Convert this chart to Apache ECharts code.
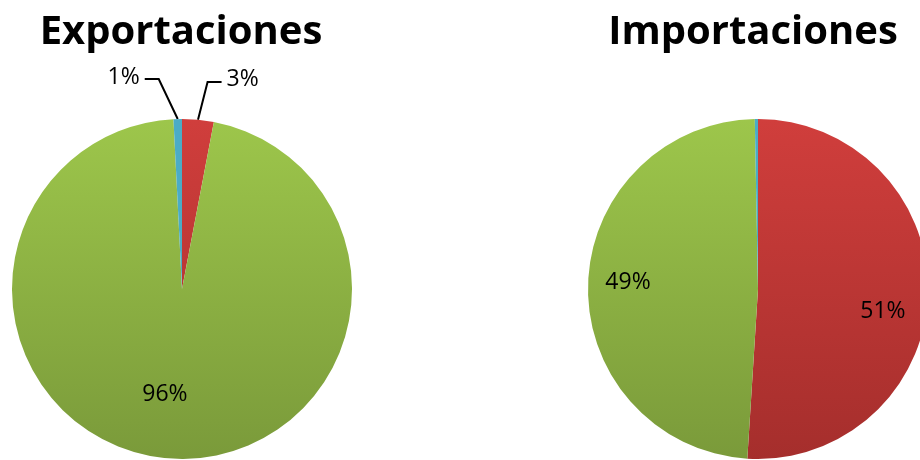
<!DOCTYPE html>
<html><head><meta charset="utf-8">
<script src="https://cdn.jsdelivr.net/npm/echarts@6/dist/echarts.min.js"></script>
<style>html,body{margin:0;padding:0;background:#fff}#c{width:920px;height:460px}</style>
</head><body><div id="c"></div>
<script>
const categories = ['Rojo', 'Verde', 'Azul'];
const exportValues = [3.0, 96.2, 0.8];
const importValues = [51.0, 48.7, 0.3];
const titles = ['Exportaciones', 'Importaciones'];

function grad(c1, c2) {
  return {type:'linear', x:0, y:120, x2:0, y2:460, global:true,
    colorStops:[{offset:0,color:c1},{offset:1,color:c2}]};
}
const colors = [grad('#d03e3c','#a52e2c'), grad('#9dc64b','#7a9a3a'), '#4bacc6'];
const fontFam = 'Open Sans, Liberation Sans, sans-serif';

function buildData(values, labelCfg) {
  return values.map((v, i) => Object.assign({name: categories[i], value: v,
    itemStyle:{color: colors[i]}}, labelCfg[i] || {}));
}

const guide = {color:'#000', width:2};
const expLabels = [
  {label:{show:true, position:'outside'}, labelLine:{show:true, length:38, length2:14, lineStyle:guide}},
  {label:{show:true, position:'inside', offset:[-11,18]}},
  {label:{show:true, position:'outside'}, labelLine:{show:true, length:40, length2:14, lineStyle:guide}}
];
const impLabels = [
  {label:{show:true, position:'inside', offset:[37,20]}},
  {label:{show:true, position:'inside', offset:[-42,-5]}},
  {label:{show:false}, labelLine:{show:false}}
];
// horizontal shift of outside labels (and the bend of their leader lines)
const expShift = {0: 6, 2: -18};

function shiftLayout(p) {
  const s = expShift[p.dataIndex];
  if (s === undefined || !p.labelLinePoints) return {};
  const pts = p.labelLinePoints.map((pt, k) => k === 0 ? [pt[0], pt[1]] : [pt[0] + s, pt[1]]);
  return {dx: s, dy: -2, labelLinePoints: pts};
}

const chart = echarts.init(document.getElementById('c'));
const baseLabel = {fontFamily: fontFam, fontSize: 23, color:'#000',
  formatter: p => Math.round(p.value) + '%'};
chart.setOption({
  animation:false,
  title:[
    {text: titles[0], left: 176, top: 8, textAlign:'center', textStyle:{fontFamily: fontFam, fontWeight:'bold', fontSize:40, color:'#000'}},
    {text: titles[1], left: 748, top: 8, textAlign:'center', textStyle:{fontFamily: fontFam, fontWeight:'bold', fontSize:40, color:'#000'}}
  ],
  series:[
    {type:'pie', center:[182,289], radius:170, startAngle:90, clockwise:true,
     label: Object.assign({}, baseLabel), labelLine:{smooth:false},
     labelLayout: shiftLayout,
     itemStyle:{borderWidth:0}, emphasis:{disabled:true},
     data: buildData(exportValues, expLabels)},
    {type:'pie', center:[758,289], radius:170, startAngle:90, clockwise:true,
     label: Object.assign({}, baseLabel),
     itemStyle:{borderWidth:0}, emphasis:{disabled:true},
     data: buildData(importValues, impLabels)}
  ]
});
</script></body></html>
